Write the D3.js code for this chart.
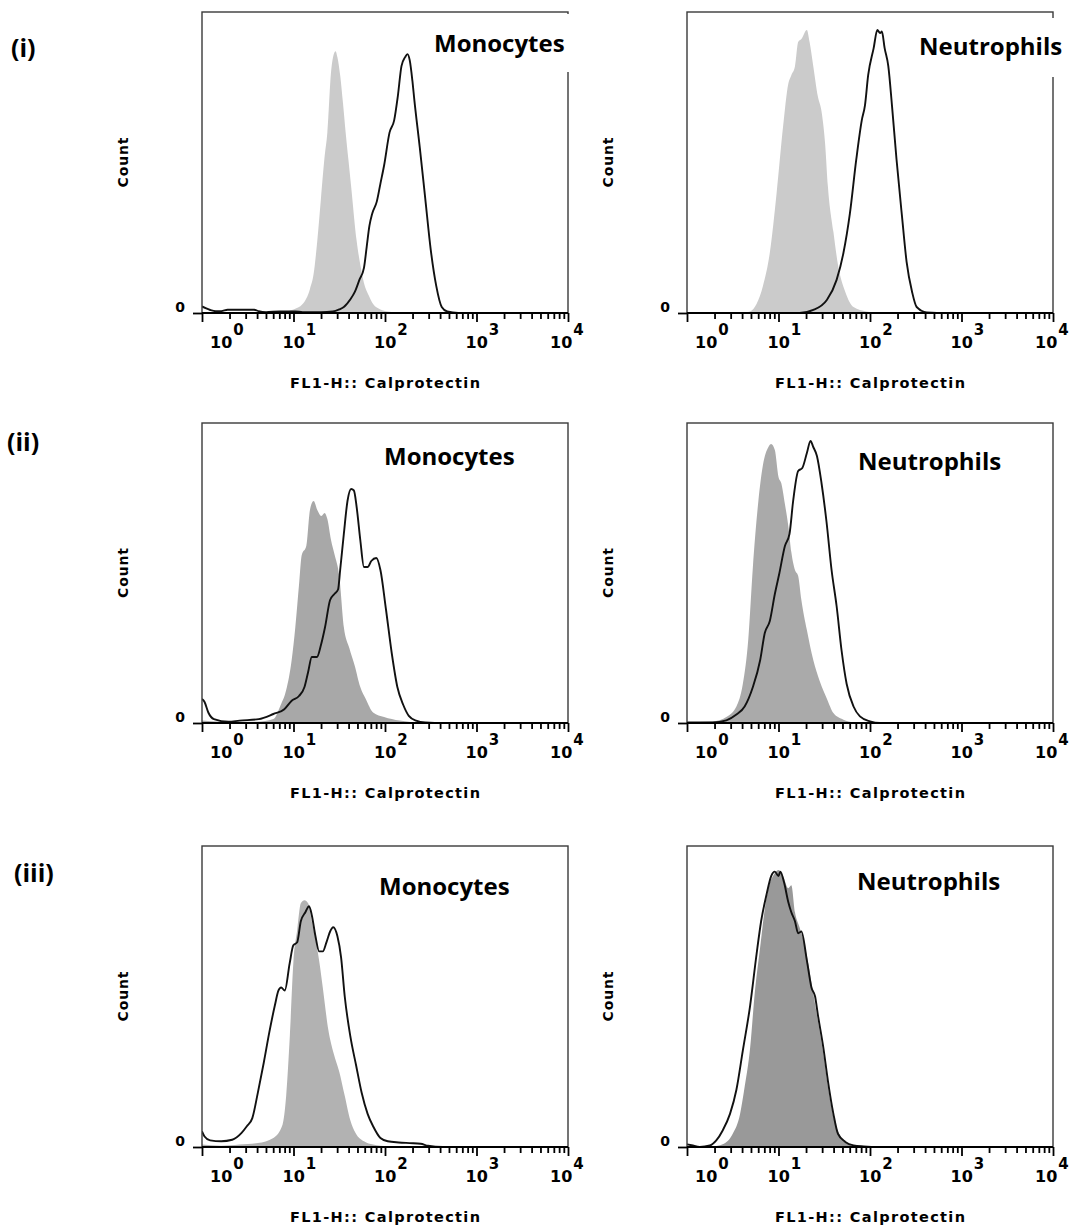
<!DOCTYPE html>
<html><head><meta charset="utf-8">
<script src="https://cdn.jsdelivr.net/npm/d3@7"></script>
<style>body{margin:0;background:#fff}</style>
</head><body>
<svg id="c" width="1072" height="1227"></svg>
<script>
// ---- DATA: [log10 FL1-H intensity, count as % of panel full scale] ----
const monoI_ctrl = [[0.80,0],[0.86,0.3],[1.0,1.2],[1.1,3],[1.18,8],[1.22,13],[1.26,24],[1.30,38],[1.34,52],[1.37,60],[1.41,80],[1.44,86],[1.46,87],[1.48,85],[1.51,79],[1.54,70],[1.57,60],[1.60,51],[1.63,42],[1.69,24],[1.73,16],[1.77,10],[1.82,6],[1.87,3],[1.95,1.2],[2.03,0.5],[2.2,0]];
const monoI_stain = [[0,2.2],[0.04,1.6],[0.09,1],[0.15,0.6],[0.21,0.6],[0.28,1.1],[0.45,1.1],[0.57,1.1],[0.62,0.6],[0.70,0.3],[0.85,0.5],[1.02,0.5],[1.1,0.3],[1.30,0.3],[1.43,0.5],[1.50,1.2],[1.55,2],[1.62,4.5],[1.67,7],[1.72,11],[1.77,15],[1.80,22],[1.83,29],[1.86,33],[1.91,37],[1.95,43],[1.99,49],[2.05,60],[2.10,64],[2.14,72],[2.18,82],[2.22,85],[2.245,86],[2.27,84],[2.30,77],[2.32,71],[2.38,55],[2.44,38],[2.50,21],[2.56,9],[2.62,2],[2.68,0.5],[2.8,0],[4,0]];
const neutI_ctrl = [[0.60,0],[0.69,0.5],[0.76,3],[0.83,9],[0.905,20],[0.98,40],[1.05,62],[1.106,76],[1.14,79],[1.18,82],[1.215,90],[1.25,91],[1.31,94],[1.34,90],[1.38,82],[1.43,72],[1.47,67],[1.51,56],[1.54,42],[1.60,27],[1.65,16],[1.73,7],[1.82,2],[1.96,0.5],[2.1,0]];
const neutI_stain = [[0,0],[1.23,0],[1.38,1],[1.53,4.4],[1.635,11],[1.71,20],[1.78,33],[1.85,51],[1.91,64],[1.945,69],[1.98,79],[2.04,88],[2.08,94],[2.11,93],[2.13,93.5],[2.16,88],[2.20,82],[2.24,69],[2.29,51],[2.35,32],[2.40,17],[2.46,7],[2.51,2],[2.62,0.2],[2.84,0],[4,0]];
const monoII_ctrl = [[0,0.8],[0.2,0.4],[0.6,0.4],[0.78,1.3],[0.86,6],[0.92,11],[0.98,21],[1.02,32],[1.06,46],[1.09,56],[1.14,59],[1.18,71],[1.22,74],[1.26,71],[1.305,69],[1.34,70],[1.37,68],[1.41,61],[1.45,56],[1.50,49],[1.55,32],[1.61,25],[1.67,19],[1.73,12],[1.79,8],[1.87,3.5],[1.99,2],[2.16,0.8],[2.32,0.2],[2.44,0]];
const monoII_stain = [[0,8],[0.028,7],[0.069,3.5],[0.13,1.3],[0.29,0.4],[0.41,0.8],[0.62,1.3],[0.78,3],[0.90,4.6],[0.98,7.4],[1.06,9],[1.12,12],[1.16,17],[1.20,22],[1.256,22],[1.30,26],[1.345,32],[1.40,41],[1.447,43],[1.487,44.5],[1.51,51],[1.55,63],[1.59,74],[1.63,78],[1.66,77.5],[1.69,72],[1.73,61],[1.77,52],[1.81,52],[1.85,54],[1.905,55],[1.95,51],[2.01,38],[2.075,23],[2.135,12],[2.20,6],[2.26,2.4],[2.34,0.8],[2.44,0.2],[2.64,0],[4,0]];
const neutII_ctrl = [[0,0.2],[0.28,0.5],[0.43,2],[0.54,5.5],[0.61,13],[0.67,28],[0.72,52],[0.78,74],[0.83,86],[0.89,92],[0.92,93],[0.96,91],[1.0,82],[1.03,80],[1.07,73],[1.11,65],[1.14,57],[1.18,51],[1.215,49],[1.25,41],[1.31,31],[1.38,21],[1.45,14],[1.53,8],[1.60,3.3],[1.71,1.1],[1.82,0.2],[1.96,0]];
const neutII_stain = [[0,0.2],[0.28,0.2],[0.43,0.9],[0.54,2.8],[0.63,5.5],[0.72,12],[0.80,21],[0.85,30],[0.905,34],[0.96,43],[1.01,50],[1.07,59],[1.12,63],[1.16,74],[1.215,84],[1.26,85],[1.31,90],[1.35,94],[1.38,92],[1.42,89],[1.47,80],[1.525,67],[1.58,51],[1.635,39],[1.69,24],[1.745,13],[1.82,5.5],[1.89,2.2],[2.0,0.55],[2.11,0],[4,0]];
const monoIII_ctrl = [[0,0.8],[0.21,0.4],[0.41,0.8],[0.61,1.3],[0.78,3],[0.88,7.4],[0.92,17],[0.96,37],[1.0,62],[1.04,72],[1.08,81],[1.12,82],[1.16,81],[1.20,75],[1.24,69],[1.28,62],[1.32,53],[1.38,39],[1.44,31],[1.50,25],[1.56,17],[1.62,9],[1.68,4.6],[1.77,1.9],[1.87,0.8],[2.03,0.2],[2.23,0]];
const monoIII_stain = [[0,5.2],[0.028,3.5],[0.089,2.2],[0.21,1.9],[0.33,2.4],[0.43,4.6],[0.49,6.9],[0.55,9.6],[0.61,18],[0.675,28],[0.735,38],[0.796,47],[0.836,52],[0.865,53],[0.905,52],[0.958,61],[0.998,67],[1.04,68],[1.08,75],[1.13,78],[1.17,80],[1.20,77],[1.24,70],[1.28,65],[1.32,65],[1.36,68],[1.40,71.6],[1.434,73],[1.48,70],[1.52,63],[1.56,50],[1.62,37],[1.685,27],[1.745,18],[1.81,11],[1.87,6.9],[1.95,3],[2.03,1.9],[2.15,1.5],[2.27,1.3],[2.39,1.1],[2.47,0.4],[2.63,0],[4,0]];
const neutIII_ctrl = [[0,0.2],[0.28,0.2],[0.39,0.9],[0.50,4.4],[0.58,11],[0.63,20],[0.69,33],[0.74,51],[0.80,66.5],[0.85,79],[0.905,87.6],[0.94,90],[1.0,92],[1.05,90],[1.106,86],[1.14,87],[1.18,78],[1.23,73],[1.27,69],[1.325,61],[1.38,51],[1.43,42],[1.49,31],[1.54,20],[1.60,10],[1.67,3.9],[1.74,1.3],[1.85,0.2],[1.96,0]];
const neutIII_stain = [[0,0.9],[0.05,0.6],[0.14,0],[0.25,0.5],[0.32,2.2],[0.39,5.5],[0.47,11],[0.54,19],[0.61,32],[0.69,47],[0.76,64],[0.81,75],[0.87,84],[0.92,90],[0.96,91.5],[1.0,90],[1.02,91.5],[1.06,88],[1.106,81.5],[1.14,78],[1.18,75],[1.215,71],[1.25,71.6],[1.31,62],[1.36,53],[1.40,50],[1.43,44],[1.49,33],[1.54,22],[1.60,11],[1.65,4.4],[1.73,1.7],[1.82,0.55],[1.93,0.2],[2.1,0],[4,0]];

const xTickExponents = [0, 1, 2, 3, 4];
const minorMultipliers = [2, 3, 4, 5, 6, 7, 8, 9];
const cellTypes = ["Monocytes", "Neutrophils"];
const rowLabels = ["(i)", "(ii)", "(iii)"];
const xAxisTitle = "FL1-H:: Calprotectin";
const yAxisTitle = "Count";
const yTickLabel = "0";

// ---- LAYOUT ----
const cols = [{x0: 202, x1: 568}, {x0: 687, x1: 1053}];
const rows = [{y0: 12, y1: 313}, {y0: 423, y1: 723}, {y0: 846, y1: 1147}];
const rowLabelPos = [{x: 11, y: 57}, {x: 7, y: 451}, {x: 14, y: 882}];
const panels = [
  {r: 0, c: 0, ctrl: monoI_ctrl,   stain: monoI_stain,   fill: "#cbcbcb", lx: 232, ly: 40, bg: [226, 2, 150, 58]},
  {r: 0, c: 1, ctrl: neutI_ctrl,   stain: neutI_stain,   fill: "#cbcbcb", lx: 232, ly: 43, bg: [228, 6, 150, 59]},
  {r: 1, c: 0, ctrl: monoII_ctrl,  stain: monoII_stain,  fill: "#a8a8a8", lx: 182, ly: 42},
  {r: 1, c: 1, ctrl: neutII_ctrl,  stain: neutII_stain,  fill: "#aaaaaa", lx: 171, ly: 47},
  {r: 2, c: 0, ctrl: monoIII_ctrl, stain: monoIII_stain, fill: "#b2b2b2", lx: 177, ly: 49},
  {r: 2, c: 1, ctrl: neutIII_ctrl, stain: neutIII_stain, fill: "#999999", lx: 170, ly: 44}
];
const tickLabelDx = [8, -11, -11, -11, -18];

const svg = d3.select("#c");
const FONT = "'DejaVu Sans', Verdana, sans-serif";
const LFONT = "'Open Sans', 'Noto Sans', sans-serif";

rowLabels.forEach((t, i) => {
  svg.append("text").attr("x", rowLabelPos[i].x).attr("y", rowLabelPos[i].y)
    .attr("font-family", LFONT).attr("font-weight", 700).attr("font-size", 25).attr("fill", "#000").text(t);
});

panels.forEach((p, i) => {
  const {x0, x1} = cols[p.c];
  const {y0, y1} = rows[p.r];
  const x = d3.scaleLog().domain([1, 1e4]).range([x0, x1]);
  const y = d3.scaleLinear().domain([0, 100]).range([y1, y0]);
  const g = svg.append("g");

  g.append("clipPath").attr("id", "clip" + i).append("rect")
    .attr("x", x0).attr("y", y0).attr("width", x1 - x0).attr("height", y1 - y0);
  const pg = g.append("g").attr("clip-path", `url(#clip${i})`);

  const area = d3.area().x(d => x(Math.pow(10, d[0]))).y0(y(0)).y1(d => y(d[1])).curve(d3.curveMonotoneX);
  const line = d3.line().x(d => x(Math.pow(10, d[0]))).y(d => y(d[1])).curve(d3.curveMonotoneX);
  pg.append("path").datum(p.ctrl).attr("d", area).attr("fill", p.fill).attr("stroke", "none");
  pg.append("path").datum(p.stain).attr("d", line).attr("fill", "none").attr("stroke", "#111").attr("stroke-width", 1.9).attr("stroke-linejoin", "round");

  // frame
  g.append("rect").attr("x", x0).attr("y", y0).attr("width", x1 - x0).attr("height", y1 - y0)
    .attr("fill", "none").attr("stroke", "#3a3a3a").attr("stroke-width", 1.4);

  // x axis (major + minor ticks)
  const minorVals = [];
  xTickExponents.slice(0, -1).forEach(e => minorMultipliers.forEach(m => minorVals.push(m * Math.pow(10, e))));
  const axMinor = d3.axisBottom(x).tickValues(minorVals).tickSize(6).tickSizeOuter(0).tickFormat("");
  const axMajor = d3.axisBottom(x).tickValues(xTickExponents.map(e => Math.pow(10, e))).tickSize(9).tickSizeOuter(0).tickFormat("");
  [axMinor, axMajor].forEach(ax => {
    const a = g.append("g").attr("transform", `translate(0,${y1})`).call(ax);
    a.select(".domain").remove();
    a.selectAll(".tick line").attr("stroke", "#000").attr("stroke-width", 1.8);
  });
  // y axis zero tick
  const ay = g.append("g").attr("transform", `translate(${x0},0)`)
    .call(d3.axisLeft(y).tickValues([0]).tickSize(9).tickPadding(8).tickFormat(() => yTickLabel));
  ay.select(".domain").remove();
  ay.selectAll(".tick line").attr("stroke", "#000").attr("stroke-width", 1.8);
  ay.selectAll("text").attr("font-family", FONT).attr("font-weight", 700).attr("font-size", 14)
    .attr("fill", "#000").attr("dy", "-0.1em");

  // baseline
  g.append("line").attr("x1", x0).attr("x2", x1).attr("y1", y1).attr("y2", y1)
    .attr("stroke", "#000").attr("stroke-width", 1.8);

  // x tick labels 10^n
  xTickExponents.forEach((e, k) => {
    const t = g.append("text").attr("x", x(Math.pow(10, e)) + tickLabelDx[k]).attr("y", y1 + 35)
      .attr("font-family", FONT).attr("font-weight", 700).attr("font-size", 16).attr("fill", "#000");
    t.append("tspan").text("10");
    t.append("tspan").attr("dx", 1).attr("dy", -13).attr("font-size", 15).text(String(e));
  });

  // axis titles
  g.append("text").attr("x", (x0 + x1) / 2).attr("y", y1 + 75).attr("text-anchor", "middle")
    .attr("font-family", FONT).attr("font-weight", 700).attr("font-size", 14.5).attr("fill", "#000")
    .attr("textLength", 190).attr("lengthAdjust", "spacing").text(xAxisTitle);
  g.append("text").attr("transform", `translate(${x0 - 79},${(y0 + y1) / 2}) rotate(-90)`)
    .attr("text-anchor", "middle").attr("dy", "0.36em")
    .attr("font-family", FONT).attr("font-weight", 700).attr("font-size", 14).attr("fill", "#000")
    .attr("textLength", 50).attr("lengthAdjust", "spacing").text(yAxisTitle);

  // cell type label
  if (p.bg) {
    g.append("rect").attr("x", x0 + p.bg[0]).attr("y", y0 + p.bg[1]).attr("width", p.bg[2]).attr("height", p.bg[3]).attr("fill", "#fff");
  }
  g.append("text").attr("x", x0 + p.lx).attr("y", y0 + p.ly)
    .attr("font-family", LFONT).attr("font-weight", 700).attr("font-size", 24).attr("fill", "#000")
    .text(cellTypes[p.c]);
});
</script>
</body></html>
